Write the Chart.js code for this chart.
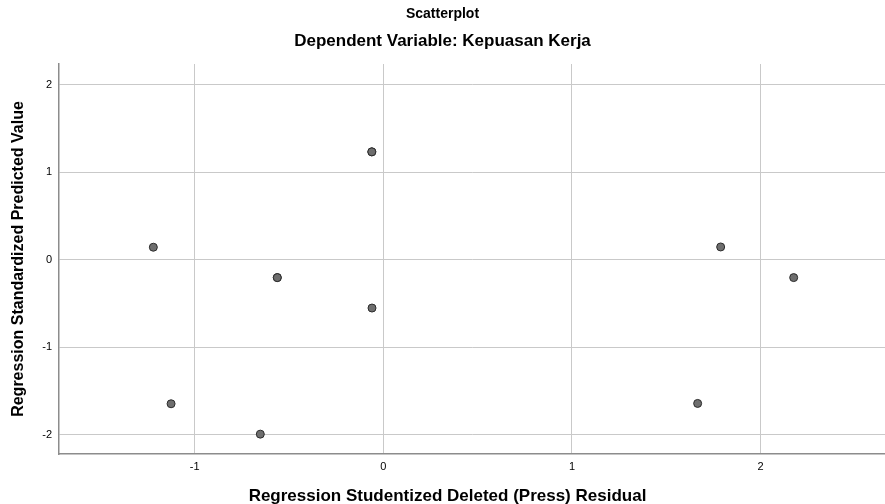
<!DOCTYPE html>
<html>
<head>
<meta charset="utf-8">
<script src="https://cdn.jsdelivr.net/npm/chart.js@4.4.1/dist/chart.umd.min.js"></script>
<style>
  html, body { margin: 0; padding: 0; background: #fff; }
  #chart { display: block; }
</style>
</head>
<body>
<canvas id="chart" width="885" height="504"></canvas>
<script>
// residuals (x) vs predicted (y)
const residuals = [-1.219, -0.562, -0.562, -0.061, -0.061, -0.060, -1.125, -0.652, 1.788, 2.175, 1.666];
const predicted = [0.141, -0.206, -0.206, 1.231, 1.231, -0.554, -1.648, -1.995, 0.144, -0.206, -1.644];
const xTicks = [-1, 0, 1, 2];
const yTicks = [-2, -1, 0, 1, 2];
const xTitle = 'Regression Studentized Deleted (Press) Residual';

const points = residuals.map((x, i) => ({ x: x, y: predicted[i] }));
const fontFamily = "'Liberation Sans', Arial, sans-serif";

// SPSS centres the x axis title on the whole picture, not on the plot area
const xTitlePlugin = {
  id: 'xTitle',
  afterDraw(chart) {
    const ctx = chart.ctx;
    ctx.save();
    ctx.font = 'bold 17px ' + fontFamily;
    ctx.fillStyle = '#000';
    ctx.textAlign = 'center';
    ctx.textBaseline = 'middle';
    ctx.fillText(xTitle, chart.width / 2 + 5, 496);
    ctx.restore();
  },
};

new Chart(document.getElementById('chart').getContext('2d'), {
  type: 'scatter',
  data: {
    datasets: [{
      data: points,
      pointRadius: 4,
      pointBackgroundColor: '#6e6e6e',
      pointBorderColor: '#2b2b2b',
      pointBorderWidth: 1,
    }],
  },
  plugins: [xTitlePlugin],
  options: {
    responsive: false,
    animation: false,
    layout: { padding: 0, autoPadding: false },
    plugins: {
      legend: { display: false },
      tooltip: { enabled: false },
      title: {
        display: true,
        text: 'Scatterplot',
        color: '#000',
        font: { family: fontFamily, size: 14, weight: 'bold', lineHeight: 1.2 },
        padding: { top: 6, bottom: 8 },
      },
      subtitle: {
        display: true,
        text: 'Dependent Variable: Kepuasan Kerja',
        color: '#000',
        font: { family: fontFamily, size: 17, weight: 'bold', lineHeight: 1.2 },
        padding: { top: 0, bottom: 12.8 },
      },
    },
    scales: {
      x: {
        type: 'linear',
        min: -1.719,
        max: 2.659,
        afterBuildTicks: (scale) => { scale.ticks = xTicks.map((v) => ({ value: v })); },
        afterFit: (scale) => {
          scale.height = 50;
          scale.paddingLeft = 0;
          scale.paddingRight = 0;
        },
        ticks: {
          color: '#000',
          font: { family: fontFamily, size: 11 },
          padding: 6,
        },
        grid: { color: '#c9c9c9', lineWidth: 1, drawTicks: false },
        border: { color: '#8c8c8c', width: 1.5 },
      },
      y: {
        type: 'linear',
        min: -2.222,
        max: 2.235,
        afterBuildTicks: (scale) => { scale.ticks = yTicks.map((v) => ({ value: v })); },
        afterFit: (scale) => {
          scale.width = 59;
          scale.paddingTop = 0;
          scale.paddingBottom = 0;
        },
        ticks: {
          color: '#000',
          font: { family: fontFamily, size: 11 },
          padding: 7,
        },
        grid: { color: '#c9c9c9', lineWidth: 1, drawTicks: false },
        border: { color: '#8c8c8c', width: 1.5 },
        title: {
          display: true,
          text: 'Regression Standardized Predicted Value',
          color: '#000',
          font: { family: fontFamily, size: 16, weight: 'bold', lineHeight: 1.2 },
          padding: { top: 8.5, bottom: 0 },
        },
      },
    },
  },
});
</script>
</body>
</html>
